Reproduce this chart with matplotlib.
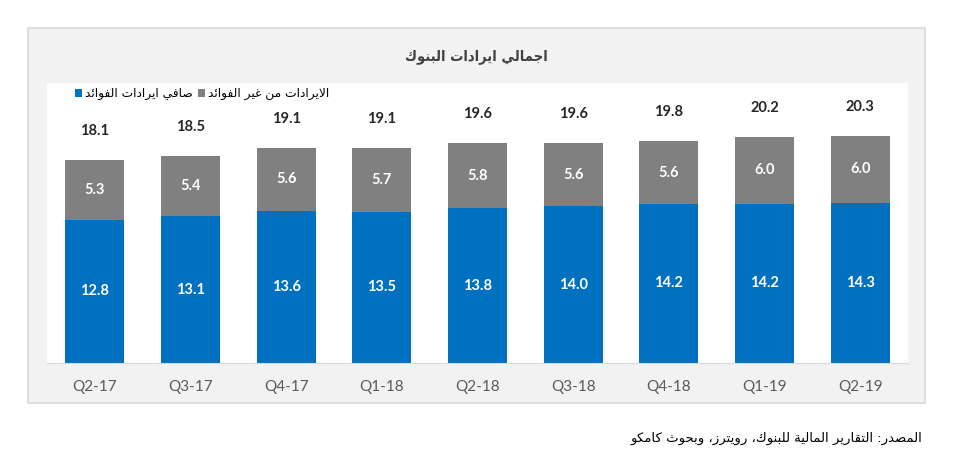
import matplotlib
matplotlib.use("Agg")
import matplotlib.pyplot as plt
from matplotlib.patches import Rectangle

# Data
quarters = ["Q2-17", "Q3-17", "Q4-17", "Q1-18", "Q2-18", "Q3-18", "Q4-18", "Q1-19", "Q2-19"]
net_interest = [12.8, 13.1, 13.6, 13.5, 13.8, 14.0, 14.2, 14.2, 14.3]
non_interest = [5.3, 5.4, 5.6, 5.7, 5.8, 5.6, 5.6, 6.0, 6.0]
totals = [18.1, 18.5, 19.1, 19.1, 19.6, 19.6, 19.8, 20.2, 20.3]

title_txt = "اجمالي ايرادات البنوك"
label_net = "صافي ايرادات الفوائد"
label_non = "الايرادات من غير الفوائد"
source_txt = "المصدر: التقارير المالية للبنوك، رويترز، وبحوث كامكو"

BLUE = "#0070C0"
GRAY = "#808080"

# --- minimal Arabic shaping (presentation forms B) + RTL order ---
DUAL = {"ئ": 0xFE89, "ب": 0xFE8F, "ت": 0xFE95, "ث": 0xFE99, "ج": 0xFE9D,
        "ح": 0xFEA1, "خ": 0xFEA5, "س": 0xFEB1, "ش": 0xFEB5, "ص": 0xFEB9,
        "ض": 0xFEBD, "ط": 0xFEC1, "ظ": 0xFEC5, "ع": 0xFEC9, "غ": 0xFECD,
        "ف": 0xFED1, "ق": 0xFED5, "ك": 0xFED9, "ل": 0xFEDD, "م": 0xFEE1,
        "ن": 0xFEE5, "ه": 0xFEE9, "ي": 0xFEF1}
RIGHT = {"آ": 0xFE81, "أ": 0xFE83, "ؤ": 0xFE85, "إ": 0xFE87, "ا": 0xFE8D,
         "ة": 0xFE93, "د": 0xFEA9, "ذ": 0xFEAB, "ر": 0xFEAD, "ز": 0xFEAF,
         "و": 0xFEED, "ى": 0xFEEF}
LAMALEF = {"ا": 0xFEFB, "آ": 0xFEF5, "أ": 0xFEF7, "إ": 0xFEF9}


def shape(text):
    toks = []
    i = 0
    while i < len(text):
        c = text[i]
        if c == "ل" and i + 1 < len(text) and text[i + 1] in LAMALEF:
            toks.append(("LA", LAMALEF[text[i + 1]]))
            i += 2
            continue
        if c in DUAL:
            toks.append(("D", DUAL[c]))
        elif c in RIGHT:
            toks.append(("R", RIGHT[c]))
        else:
            toks.append(("N", c))
        i += 1
    out = []
    for k, (kind, val) in enumerate(toks):
        if kind == "N":
            out.append(val)
            continue
        prev_join = k > 0 and toks[k - 1][0] == "D"
        next_join = kind == "D" and k + 1 < len(toks) and toks[k + 1][0] != "N"
        if kind == "D":
            off = 3 if (prev_join and next_join) else 1 if prev_join else 2 if next_join else 0
        else:
            off = 1 if prev_join else 0
        out.append(chr(val + off))
    return "".join(out)[::-1]


AR = ["DejaVu Sans"]
NUM = ["Lato", "DejaVu Sans"]

fig = plt.figure(figsize=(9.55, 4.59), dpi=100)
W, H = 955, 459

# outer panel
fig.patches.append(Rectangle((28 / W, 1 - 403 / H), (925 - 28) / W, (403 - 28) / H,
                             transform=fig.transFigure, facecolor="#F2F2F2",
                             edgecolor="#D9D9D9", linewidth=1.2, zorder=-5))

ax = fig.add_axes([47 / W, 1 - 363 / H, (908 - 47) / W, (363 - 83) / H])
ax.set_zorder(2)
ax.set_facecolor("white")

x = range(len(quarters))
b1 = ax.bar(x, net_interest, width=0.62, color=BLUE, zorder=2)
b2 = ax.bar(x, non_interest, width=0.62, bottom=net_interest, color=GRAY, zorder=2)

for i in x:
    ax.text(i, net_interest[i] / 2, f"{net_interest[i]:.1f}", ha="center", va="center",
            color="white", fontsize=10.5, fontweight="bold", family=NUM)
    ax.text(i, net_interest[i] + non_interest[i] / 2, f"{non_interest[i]:.1f}",
            ha="center", va="center", color="white", fontsize=10.5,
            fontweight="bold", family=NUM)
    ax.text(i, net_interest[i] + non_interest[i] + 2.6, f"{totals[i]:.1f}",
            ha="center", va="center", color="#262626", fontsize=10.5,
            fontweight="bold", family=NUM)

ax.set_xlim(-0.5, len(quarters) - 0.5)
ax.set_ylim(0, 25)
ax.set_xticks(list(x))
ax.set_xticklabels(quarters, color="#595959", fontsize=11, family=NUM)
ax.tick_params(axis="x", length=0, pad=12)
ax.set_yticks([])
for s in ["top", "left", "right"]:
    ax.spines[s].set_visible(False)
ax.spines["bottom"].set_color("#D9D9D9")

leg = ax.legend([b1, b2], [shape(label_net), shape(label_non)], ncol=2,
                loc="upper left", bbox_to_anchor=(28 / 861, 0.985),
                frameon=False, handlelength=0.6, handleheight=0.7,
                handletextpad=0.25, columnspacing=0.4, borderpad=0,
                borderaxespad=0, prop={"family": AR, "size": 8.8})

fig.text(476 / W, 1 - 57 / H, shape(title_txt), ha="center", va="center",
         fontsize=10.5, fontweight="bold", color="#404040", family=AR,
         fontstretch="condensed")
fig.text(922 / W, 1 - 438 / H, shape(source_txt), ha="right", va="center",
         fontsize=9.5, color="black", family=AR)

fig.savefig("out.png", dpi=100, facecolor="white")
